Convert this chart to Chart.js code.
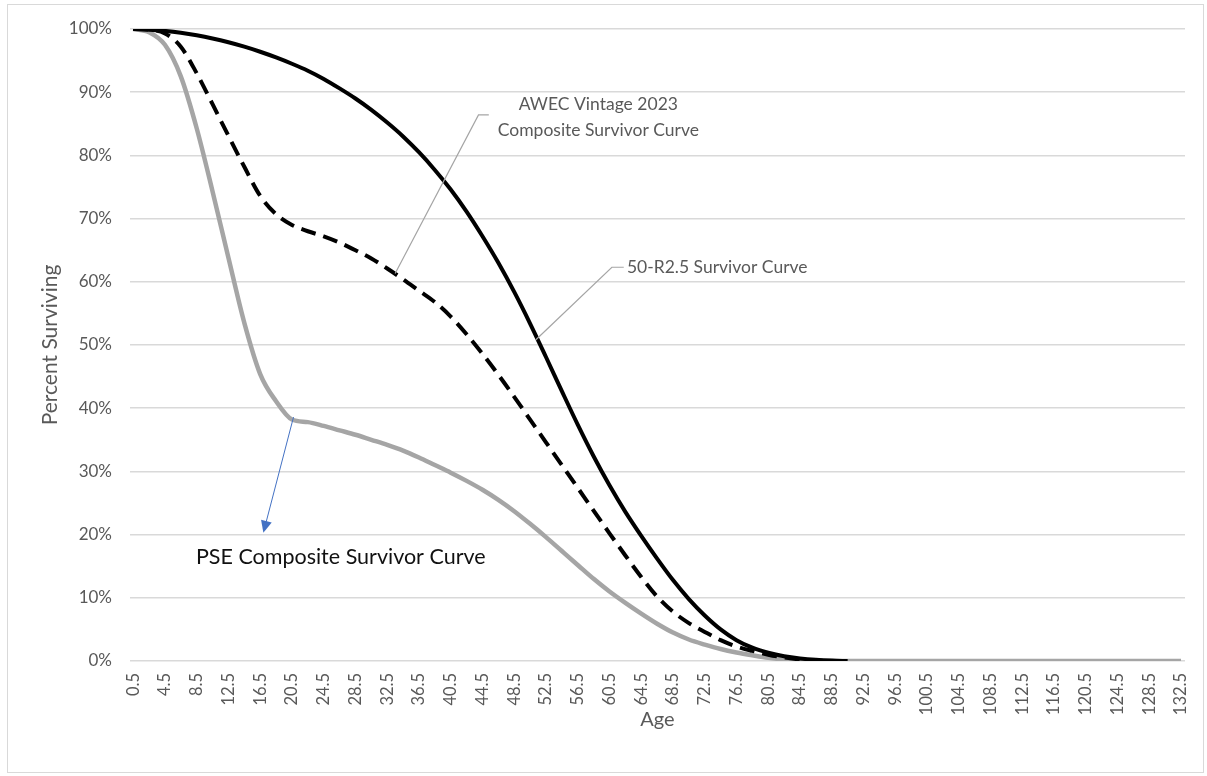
<!DOCTYPE html>
<html>
<head>
<meta charset="utf-8">
<script src="https://cdn.jsdelivr.net/npm/chart.js@4"></script>
<style>
  html, body { margin: 0; padding: 0; background: #fff; }
  #c { display: block; }
</style>
</head>
<body>
<canvas id="c" width="1207" height="776"></canvas>
<script>
// ---- Data ----
const ages = [0.5, 2.5, 4.5, 6.5, 8.5, 10.5, 12.5, 14.5, 16.5, 18.5, 20.5, 22.5, 24.5, 26.5, 28.5, 30.5,
  32.5, 34.5, 36.5, 38.5, 40.5, 42.5, 44.5, 46.5, 48.5, 50.5, 52.5, 54.5, 56.5, 58.5, 60.5, 62.5,
  64.5, 66.5, 68.5, 70.5, 72.5, 74.5, 76.5, 78.5, 80.5, 82.5, 84.5, 86.5, 88.5, 90.5, 92.5, 132.5];

const survivorR25 = [100, 99.9, 99.7, 99.4, 99.0, 98.5, 97.9, 97.2, 96.4, 95.5, 94.5, 93.4, 92.1, 90.6, 89.0, 87.2,
  85.2, 83.0, 80.5, 77.7, 74.6, 71.1, 67.2, 63.0, 58.4, 53.4, 48.1, 42.7, 37.4, 32.4, 27.8, 23.6,
  19.8, 16.2, 12.8, 9.8, 7.2, 5.0, 3.3, 2.1, 1.3, 0.75, 0.4, 0.18, 0.06, 0, null, null];

const awecComposite = [100, 99.9, 99.3, 97.2, 93.0, 88.1, 83.1, 78.2, 73.6, 70.7, 69.0, 68.0, 67.2, 66.2, 65.0, 63.7,
  62.1, 60.4, 58.6, 56.8, 54.5, 51.7, 48.6, 45.3, 41.8, 38.2, 34.6, 31.0, 27.4, 23.8, 20.2, 16.7,
  13.3, 10.2, 7.8, 6.0, 4.6, 3.3, 2.3, 1.6, 1.0, 0.55, 0.25, 0.08, 0, null, null, null];

const pseComposite = [100, 99.5, 97.5, 92.5, 84.3, 74.3, 63.8, 53.5, 45.4, 41.1, 38.2, 37.8, 37.2, 36.5, 35.8, 35.0,
  34.2, 33.3, 32.2, 31.0, 29.8, 28.5, 27.1, 25.5, 23.7, 21.7, 19.6, 17.4, 15.2, 13.0, 11.0, 9.2,
  7.5, 5.9, 4.5, 3.4, 2.6, 1.9, 1.35, 0.9, 0.5, 0.25, 0.1, 0, 0, 0, 0, 0];

const xTickLabels = ['0.5', '4.5', '8.5', '12.5', '16.5', '20.5', '24.5', '28.5', '32.5', '36.5', '40.5',
  '44.5', '48.5', '52.5', '56.5', '60.5', '64.5', '68.5', '72.5', '76.5', '80.5', '84.5', '88.5',
  '92.5', '96.5', '100.5', '104.5', '108.5', '112.5', '116.5', '120.5', '124.5', '128.5', '132.5'];

const yTickValues = [0, 10, 20, 30, 40, 50, 60, 70, 80, 90, 100];

// ---- Callout annotations (in data units) ----
const callouts = {
  awec: { lines: ['AWEC Vintage 2023', 'Composite Survivor Curve'], textAt: [59.1, 88.0], lineGap: 4.0,
          leader: [[33.5, 61.3], [44.0, 86.4], [45.3, 86.4]] },
  r25:  { text: '50-R2.5 Survivor Curve', textAt: [62.7, 62.3],
          leader: [[51.2, 50.8], [60.8, 62.3], [62.3, 62.3]] },
  pse:  { text: 'PSE Composite Survivor Curve', textAt: [8.4, 16.5],
          arrow: [[20.7, 38.6], [16.9, 20.3]] }
};

const toPts = (vals) => ages.map((a, i) => ({ x: a, y: vals[i] }));

const FONT = 'Lato, "Open Sans", sans-serif';
const GRAYTXT = '#595959';

const framePlugin = {
  id: 'frame',
  beforeDraw(chart) {
    const ctx = chart.ctx;
    ctx.save();
    ctx.fillStyle = '#ffffff';
    ctx.fillRect(0, 0, chart.width, chart.height);
    ctx.restore();
  },
  afterDraw(chart) {
    const ctx = chart.ctx;
    ctx.save();
    ctx.strokeStyle = '#D9D9D9';
    ctx.lineWidth = 1;
    ctx.strokeRect(7.5, 4.5, 1196, 768);
    ctx.restore();
  }
};

const calloutPlugin = {
  id: 'callouts',
  afterDatasetsDraw(chart) {
    const { ctx, scales: { x, y } } = chart;
    const P = (p) => [x.getPixelForValue(p[0]), y.getPixelForValue(p[1])];
    ctx.save();
    ctx.strokeStyle = '#A5A5A5';
    ctx.lineWidth = 1.2;
    [callouts.awec.leader, callouts.r25.leader].forEach(pts => {
      ctx.beginPath();
      pts.forEach((p, i) => { const q = P(p); i ? ctx.lineTo(q[0], q[1]) : ctx.moveTo(q[0], q[1]); });
      ctx.stroke();
    });
    ctx.fillStyle = GRAYTXT;
    ctx.font = '17.5px ' + FONT;
    ctx.textAlign = 'center';
    ctx.textBaseline = 'middle';
    const a = callouts.awec;
    a.lines.forEach((t, i) => {
      const q = P([a.textAt[0], a.textAt[1] - i * a.lineGap]);
      ctx.fillText(t, q[0], q[1]);
    });
    ctx.textAlign = 'left';
    const r = P(callouts.r25.textAt);
    ctx.fillText(callouts.r25.text, r[0], r[1]);
    const s = P(callouts.pse.arrow[0]), e = P(callouts.pse.arrow[1]);
    ctx.strokeStyle = '#4472C4';
    ctx.fillStyle = '#4472C4';
    ctx.lineWidth = 1;
    const ang = Math.atan2(e[1] - s[1], e[0] - s[0]);
    const hl = 12, hw = 5.5;
    ctx.beginPath();
    ctx.moveTo(s[0], s[1]);
    ctx.lineTo(e[0] - Math.cos(ang) * hl * 0.8, e[1] - Math.sin(ang) * hl * 0.8);
    ctx.stroke();
    ctx.beginPath();
    ctx.moveTo(e[0], e[1]);
    ctx.lineTo(e[0] - Math.cos(ang) * hl - Math.sin(ang) * hw, e[1] - Math.sin(ang) * hl + Math.cos(ang) * hw);
    ctx.lineTo(e[0] - Math.cos(ang) * hl + Math.sin(ang) * hw, e[1] - Math.sin(ang) * hl - Math.cos(ang) * hw);
    ctx.closePath();
    ctx.fill();
    ctx.fillStyle = '#111111';
    ctx.font = '21.5px ' + FONT;
    ctx.textAlign = 'left';
    const t = P(callouts.pse.textAt);
    ctx.fillText(callouts.pse.text, t[0], t[1]);
    ctx.restore();
  }
};

new Chart(document.getElementById('c'), {
  type: 'line',
  data: {
    datasets: [
      { label: 'AWEC Vintage 2023 Composite Survivor Curve', data: toPts(awecComposite),
        borderColor: '#000000', borderWidth: 4, borderDash: [15, 8], borderCapStyle: 'butt',
        pointRadius: 0, fill: false, cubicInterpolationMode: 'monotone', order: 1 },
      { label: '50-R2.5 Survivor Curve', data: toPts(survivorR25),
        borderColor: '#000000', borderWidth: 4, pointRadius: 0, fill: false,
        cubicInterpolationMode: 'monotone', order: 2 },
      { label: 'PSE Composite Survivor Curve', data: toPts(pseComposite),
        borderColor: '#A5A5A5', borderWidth: 4.5, pointRadius: 0, fill: false,
        cubicInterpolationMode: 'monotone', order: 3 }
    ]
  },
  options: {
    responsive: false,
    animation: false,
    devicePixelRatio: 1,
    layout: { padding: { left: 0, top: 29, right: 22, bottom: 0 } },
    plugins: { legend: { display: false }, tooltip: { enabled: false } },
    scales: {
      x: {
        type: 'linear', min: 0.1, max: 133.0,
        grid: { display: false },
        border: { display: false },
        afterBuildTicks: (s) => { s.ticks = xTickLabels.map(l => ({ value: parseFloat(l) })); },
        afterFit: (s) => { s.height = 115; },
        ticks: {
          autoSkip: false, minRotation: 90, maxRotation: 90, padding: 4,
          color: GRAYTXT, font: { family: FONT, size: 16.5 },
          callback: (v, i) => xTickLabels[i]
        },
        title: { display: true, text: 'Age', color: GRAYTXT, font: { family: FONT, size: 20 },
                 padding: { top: 0, bottom: 44 } }
      },
      y: {
        min: 0, max: 100,
        afterBuildTicks: (s) => { s.ticks = yTickValues.map(v => ({ value: v })); },
        afterFit: (s) => { s.width = 130; },
        grid: { color: '#D9D9D9', lineWidth: 1.5, drawTicks: false },
        border: { display: false },
        ticks: { padding: 18, color: GRAYTXT, font: { family: FONT, size: 17 },
                 callback: (v) => v + '%' },
        title: { display: true, text: 'Percent Surviving', color: GRAYTXT, font: { family: FONT, size: 21 },
                 padding: { top: 38, bottom: 0 } }
      }
    }
  },
  plugins: [framePlugin, calloutPlugin]
});
</script>
</body>
</html>
